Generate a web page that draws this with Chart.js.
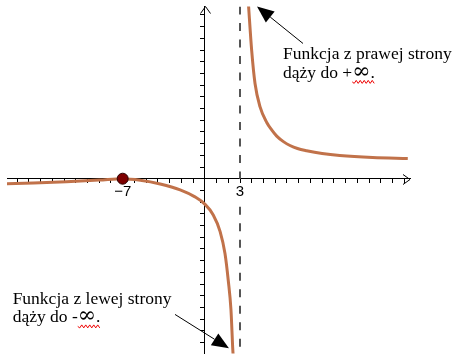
<!DOCTYPE html>
<html>
<head>
<meta charset="utf-8">
<script src="https://cdn.jsdelivr.net/npm/chart.js@4"></script>
<style>
  html, body { margin: 0; padding: 0; background: #fff; }
  #wrap { width: 464px; height: 360px; }
</style>
</head>
<body>
<div id="wrap"><canvas id="graph"></canvas></div>
<script>
// punkty - gałąź na lewo od asymptoty x = 3
const leftX = [-16.9, -14.6, -11.8, -9.0, -7.0, -5.5, -3.8, -2.1, -0.84, 0, 0.72, 1.3, 1.72, 2.0, 2.23, 2.38, 2.42];
const leftY = [-0.44, -0.36, -0.25, -0.12, 0, -0.13, -0.45, -0.95, -1.55, -2.17, -3.1, -4.5, -6.4, -8.7, -11.2, -14.5, -15.2];
// gałąź na prawo od asymptoty
const rightX = [3.68, 3.71, 4.0, 4.28, 4.71, 5.28, 5.7, 6.13, 6.7, 7.26, 7.9, 8.68, 10.0, 11.5, 14.3, 17.3];
const rightY = [15.5, 15.06, 10.9, 8.14, 6.14, 4.81, 4.17, 3.64, 3.17, 2.84, 2.58, 2.39, 2.15, 1.98, 1.81, 1.73];
// asymptota pionowa (z przerwą na podpis "3")
const asymX = 3;
const asymY = [14.72, 0, null, -2.4, -14.94];
// miejsce zerowe
const zeroX = [-7];
const zeroY = [0];
// podpisy osi x
const tickLabels = { '-7': '−7', '3': '3' };
// opisy ze strzałkami
const noteRight = ['Funkcja z prawej strony', 'dąży do +', '∞', '.'];
const noteLeft = ['Funkcja z lewej strony', 'dąży do -', '∞', '.'];

const toPts = (xs, ys) => xs.map((v, i) => ({ x: v, y: ys[i] }));

const curveColor = 'rgb(193, 114, 74)';

const extras = {
  id: 'extras',
  afterDraw(chart) {
    const { ctx, chartArea: a, scales: { x, y } } = chart;
    const x0 = Math.round(x.getPixelForValue(0)) + 0.5;
    const y0 = Math.round(y.getPixelForValue(0)) + 0.5;
    ctx.save();
    ctx.strokeStyle = '#000';
    ctx.lineWidth = 1;
    // groty osi
    ctx.beginPath();
    ctx.moveTo(a.right - 7, y0 - 5); ctx.lineTo(a.right, y0); ctx.lineTo(a.right - 7, y0 + 5);
    ctx.moveTo(x0 - 5, a.top + 7); ctx.lineTo(x0, a.top); ctx.lineTo(x0 + 5, a.top + 7);
    ctx.stroke();

    const arrow = (u1, v1, u2, v2) => {
      const x1 = x.getPixelForValue(u1), y1 = y.getPixelForValue(v1);
      const x2 = x.getPixelForValue(u2), y2 = y.getPixelForValue(v2);
      const ang = Math.atan2(y2 - y1, x2 - x1);
      const len = 17, half = 7;
      const bx = x2 - len * Math.cos(ang), by = y2 - len * Math.sin(ang);
      ctx.beginPath();
      ctx.moveTo(x1, y1); ctx.lineTo(bx, by);
      ctx.stroke();
      ctx.beginPath();
      ctx.moveTo(x2, y2);
      ctx.lineTo(bx + half * Math.sin(ang), by - half * Math.cos(ang));
      ctx.lineTo(bx - half * Math.sin(ang), by + half * Math.cos(ang));
      ctx.closePath();
      ctx.fillStyle = '#000';
      ctx.fill();
    };
    arrow(8.37, 11.56, 4.45, 14.73);
    arrow(-2.54, -11.6, 2.06, -14.5);

    const textFont = '17.5px "Liberation Serif", serif';
    const infFont = '22px "DejaVu Serif", serif';
    const note = (lines, u, v) => {
      const px = x.getPixelForValue(u), py = y.getPixelForValue(v);
      ctx.fillStyle = '#000';
      ctx.textBaseline = 'alphabetic';
      ctx.textAlign = 'left';
      ctx.font = textFont;
      ctx.fillText(lines[0], px, py);
      ctx.fillText(lines[1], px, py + 18.5);
      const w1 = ctx.measureText(lines[1]).width;
      ctx.font = infFont;
      ctx.fillText(lines[2], px + w1, py + 18.5);
      const w2 = ctx.measureText(lines[2]).width;
      ctx.font = textFont;
      ctx.fillText(lines[3], px + w1 + w2, py + 18.5);
      // czerwone podkreślenie
      ctx.beginPath();
      ctx.strokeStyle = '#e00';
      const sx = px + w1, sy = py + 22.5;
      ctx.moveTo(sx, sy);
      for (let k = 0; 2 * k < w2 + 2; k++) {
        ctx.lineTo(sx + 2 * (k + 1), sy + (k % 2 ? -1.5 : 1.5));
      }
      ctx.stroke();
      ctx.strokeStyle = '#000';
    };
    note(noteRight, 6.67, 10.2);
    note(noteLeft, -16.38, -10.7);
    ctx.restore();
  }
};

const axisCommon = {
  type: 'linear',
  border: { display: true, color: '#000', width: 1 },
  grid: { display: true, drawOnChartArea: false, drawTicks: true, tickLength: 4, color: '#000', tickColor: '#000' }
};

new Chart(document.getElementById('graph'), {
  type: 'scatter',
  data: {
    datasets: [
      {
        data: toPts(zeroX, zeroY),
        showLine: false,
        pointRadius: 5.5,
        pointBackgroundColor: '#7d0000',
        pointBorderColor: '#2a0000',
        pointBorderWidth: 1
      },
      {
        data: toPts(leftX, leftY),
        showLine: true,
        borderColor: curveColor,
        borderWidth: 3,
        pointRadius: 0,
        cubicInterpolationMode: 'monotone'
      },
      {
        data: toPts(rightX, rightY),
        showLine: true,
        borderColor: curveColor,
        borderWidth: 3,
        pointRadius: 0,
        cubicInterpolationMode: 'monotone'
      },
      {
        data: asymY.map(v => ({ x: asymX, y: v })),
        showLine: true,
        borderColor: '#555',
        borderWidth: 2,
        borderDash: [8, 8.5],
        pointRadius: 0,
        spanGaps: false
      }
    ]
  },
  options: {
    responsive: true,
    maintainAspectRatio: false,
    animation: false,
    layout: { padding: { left: 7, right: 54, top: 4, bottom: 0 } },
    plugins: { legend: { display: false }, tooltip: { enabled: false } },
    scales: {
      x: {
        ...axisCommon,
        min: -16.86,
        max: 17.49,
        position: { y: 0 },
        ticks: {
          stepSize: 1,
          autoSkip: false,
          includeBounds: false,
          maxRotation: 0,
          padding: 0,
          color: '#000',
          font: { family: 'Liberation Sans', size: 15 },
          callback: v => tickLabels[String(v)] ?? ''
        }
      },
      y: {
        ...axisCommon,
        min: -14.94,
        max: 14.72,
        position: { x: 0 },
        ticks: { display: false, stepSize: 1, includeBounds: false }
      }
    }
  },
  plugins: [extras]
});
</script>
</body>
</html>
